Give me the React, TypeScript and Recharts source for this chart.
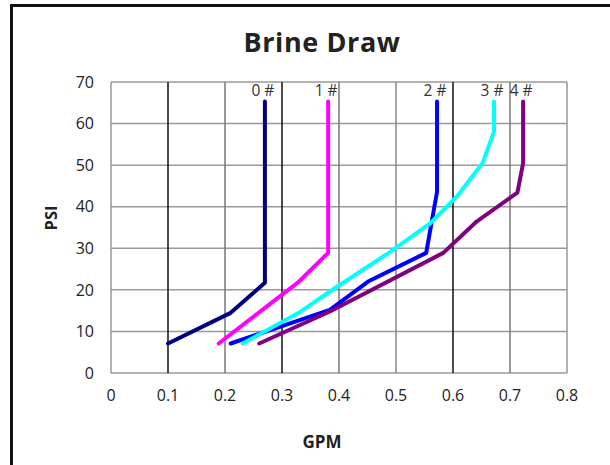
import { CartesianGrid, Line, LineChart, ReferenceLine, XAxis, YAxis } from "recharts";

const xTicks = [0, 0.1, 0.2, 0.3, 0.4, 0.5, 0.6, 0.7, 0.8];
const yTicks = [0, 10, 20, 30, 40, 50, 60, 70];

// GPM / PSI pairs, bottom to top
const size0 = [
  { gpm: 0.1, psi: 7.1 },
  { gpm: 0.209, psi: 14.4 },
  { gpm: 0.27, psi: 21.7 },
  { gpm: 0.27, psi: 65.3 },
];
const size1 = [
  { gpm: 0.189, psi: 7.1 },
  { gpm: 0.33, psi: 22 },
  { gpm: 0.381, psi: 28.9 },
  { gpm: 0.381, psi: 65.3 },
];
const size2 = [
  { gpm: 0.21, psi: 7.1 },
  { gpm: 0.384, psi: 15.2 },
  { gpm: 0.451, psi: 22 },
  { gpm: 0.553, psi: 28.9 },
  { gpm: 0.572, psi: 43.6 },
  { gpm: 0.572, psi: 65.3 },
];
const size3 = [
  { gpm: 0.231, psi: 7.1 },
  { gpm: 0.332, psi: 14.7 },
  { gpm: 0.384, psi: 19.6 },
  { gpm: 0.495, psi: 29.6 },
  { gpm: 0.56, psi: 36 },
  { gpm: 0.609, psi: 42.8 },
  { gpm: 0.652, psi: 50.5 },
  { gpm: 0.672, psi: 58.1 },
  { gpm: 0.672, psi: 65.3 },
];
const size4 = [
  { gpm: 0.26, psi: 7.1 },
  { gpm: 0.384, psi: 14.8 },
  { gpm: 0.583, psi: 28.9 },
  { gpm: 0.642, psi: 36.5 },
  { gpm: 0.713, psi: 43.4 },
  { gpm: 0.723, psi: 50.5 },
  { gpm: 0.723, psi: 65.3 },
];

const series = [
  { name: "0 #", data: size0, color: "#000080" },
  { name: "1 #", data: size1, color: "#ff00ff" },
  { name: "2 #", data: size2, color: "#0000ff" },
  { name: "3 #", data: size3, color: "#00ffff" },
  { name: "4 #", data: size4, color: "#800080" },
];

const vLineColors = ["#999", "#111", "#777", "#111", "#777", "#888", "#111", "#777", "#999"];

const font = "'Open Sans', 'Noto Sans', sans-serif";

function topLabel(name: string, count: number) {
  return (props: any) => {
    if (props.index !== count - 1) return null;
    return (
      <text
        key={name}
        x={props.x - 2}
        y={props.y - 6}
        textAnchor="middle"
        fontSize={15.5}
        fill="#333"
        fontFamily={font}
      >
        {name}
      </text>
    );
  };
}

export default function App() {
  return (
    <div style={{ position: "fixed", left: 0, top: 0, width: 610, height: 465, background: "#fff", fontFamily: font }}>
      <div
        style={{
          position: "absolute",
          left: 10,
          top: 4,
          right: 0,
          bottom: -10,
          borderTop: "3px solid #111",
          borderLeft: "3px solid #111",
        }}
      />
      <div
        style={{
          position: "absolute",
          left: 0,
          width: 644,
          top: 23,
          textAlign: "center",
          fontSize: 27,
          fontWeight: 700,
          color: "#222",
          letterSpacing: 0.6,
        }}
      >
        Brine Draw
      </div>
      <div
        style={{
          position: "absolute",
          left: 50,
          top: 218,
          transform: "translate(-50%, -50%) rotate(-90deg)",
          fontSize: 16.5,
          fontWeight: 700,
          color: "#222",
        }}
      >
        PSI
      </div>
      <div
        style={{
          position: "absolute",
          left: 322,
          top: 441,
          transform: "translate(-50%, -50%)",
          fontSize: 17,
          fontWeight: 700,
          color: "#222",
        }}
      >
        GPM
      </div>
      <div style={{ position: "absolute", left: 0, top: 0 }}>
        <LineChart width={610} height={465} margin={{ top: 82, right: 43, bottom: 62, left: 0 }}>
          <CartesianGrid vertical={false} stroke="#9a9a9a" strokeWidth={1.5} />
          <XAxis
            type="number"
            dataKey="gpm"
            domain={[0, 0.8]}
            ticks={xTicks}
            height={30}
            axisLine={false}
            tickLine={false}
            tickSize={0}
            tickMargin={17}
            tick={{ fontSize: 16, fill: "#222", fontFamily: font }}
            allowDataOverflow
          />
          <YAxis
            type="number"
            domain={[0, 70]}
            ticks={yTicks}
            width={111}
            axisLine={false}
            tickLine={false}
            tickSize={0}
            tickMargin={17}
            tick={{ fontSize: 16, fill: "#222", fontFamily: font }}
          />
          {xTicks.map((t, i) => (
            <ReferenceLine key={t} x={t} stroke={vLineColors[i]} strokeWidth={1.5} />
          ))}
          {series.map((s) => (
            <Line
              key={s.name}
              data={s.data}
              dataKey="psi"
              name={s.name}
              type="linear"
              stroke={s.color}
              strokeWidth={4}
              strokeLinecap="round"
              strokeLinejoin="round"
              dot={false}
              activeDot={false}
              isAnimationActive={false}
              label={topLabel(s.name, s.data.length)}
            />
          ))}
        </LineChart>
      </div>
    </div>
  );
}
